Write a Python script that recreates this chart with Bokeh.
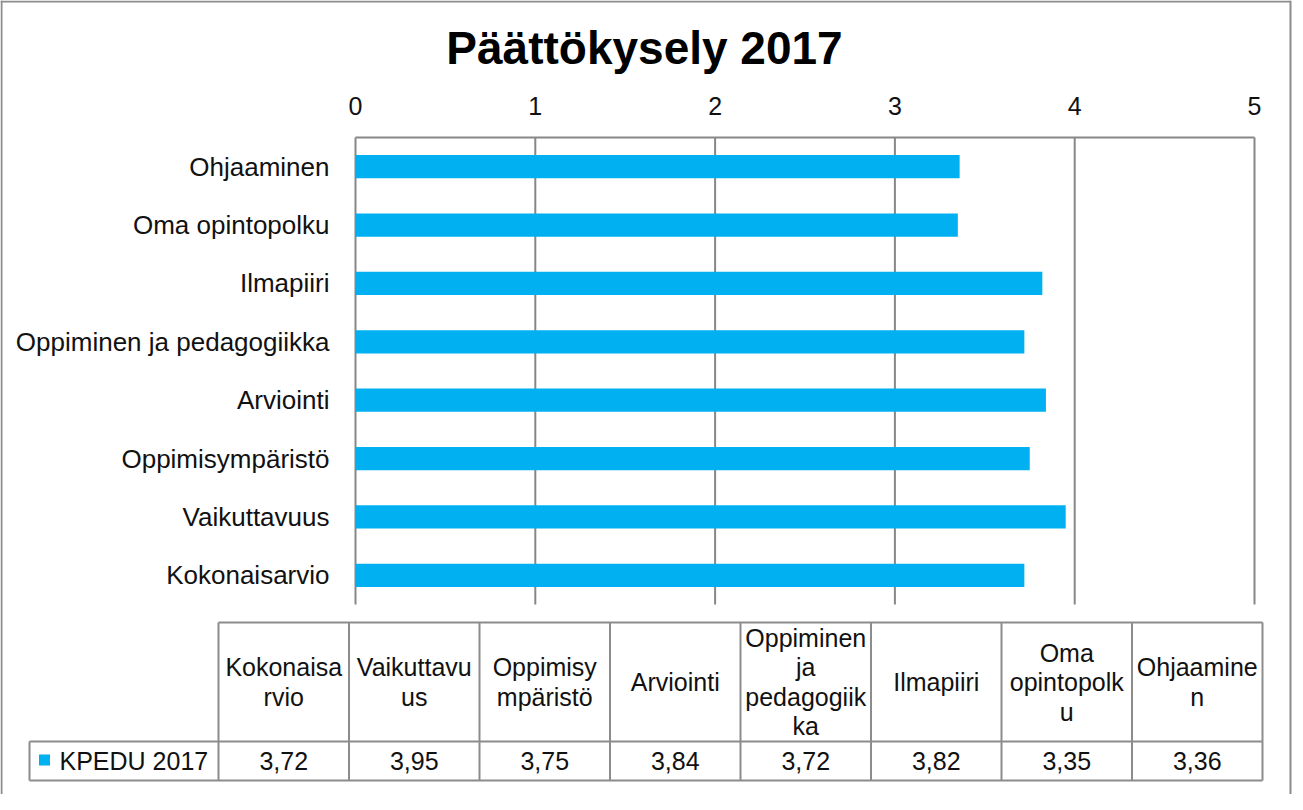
from bokeh.plotting import figure
from bokeh.models import Range1d, ColumnDataSource
from bokeh.core.properties import value
from bokeh.embed import file_html
from bokeh.resources import INLINE

# ---------------- data ----------------
title_text = "Päättökysely 2017"
series_name = "KPEDU 2017"
categories = ["Kokonaisarvio", "Vaikuttavuus", "Oppimisympäristö", "Arviointi",
              "Oppiminen ja pedagogiikka", "Ilmapiiri", "Oma opintopolku", "Ohjaaminen"]
header_lines = [["Kokonaisa", "rvio"], ["Vaikuttavu", "us"], ["Oppimisy", "mpäristö"],
                ["Arviointi"], ["Oppiminen", "ja", "pedagogiik", "ka"], ["Ilmapiiri"],
                ["Oma", "opintopolk", "u"], ["Ohjaamine", "n"]]
values = [3.72, 3.95, 3.75, 3.84, 3.72, 3.82, 3.35, 3.36]
x_ticks = [0, 1, 2, 3, 4, 5]

# ---------------- layout (canvas pixels) ----------------
W, H = 1292, 794
PLOT_L, PLOT_R, PLOT_T, PLOT_B = 355, 1254, 137, 604
XMIN, XMAX = 0, 5
TABLE_L, TABLE_R = 218, 1262
LEG_L = 29
TAB_T, TAB_M, TAB_B = 622, 741, 780
LINE_H = 29.5
FONT = value("Liberation Sans")
BAR_COLOR = "#00B0F0"
GRID_COLOR = "#878787"
TXT = "#111111"

n = len(categories)
scale = (PLOT_R - PLOT_L) / (XMAX - XMIN)
row = (PLOT_B - PLOT_T) / n

p = figure(width=W, height=H, output_backend="svg", toolbar_location=None,
           x_axis_type=None, y_axis_type=None,
           x_range=Range1d(XMIN - PLOT_L / scale, XMAX + (W - PLOT_R) / scale),
           y_range=Range1d(H, 0),
           min_border=0, min_border_left=0, min_border_right=0,
           min_border_top=0, min_border_bottom=0)
p.outline_line_color = None
p.background_fill_color = "white"
p.border_fill_color = "white"
p.extra_x_ranges = {"px": Range1d(0, W)}
p.extra_y_ranges = {"cat": Range1d((H - PLOT_T) / row, -PLOT_T / row)}

# outer chart frame
p.segment(x0=[1, 0, W - 2], y0=[0, 1, 0], x1=[1, W - 2, W - 2], y1=[H, 1, H],
          x_range_name="px", line_color="#8c8c8c", line_width=2)

# title
p.text(x=[W / 2 - 2], y=[47], text=[title_text], x_range_name="px",
       text_align="center", text_baseline="middle", text_font=FONT,
       text_font_size=value("46px"), text_font_style="bold", text_color="#000000")

# grid / axis lines
p.segment(x0=x_ticks, x1=x_ticks, y0=[PLOT_T] * len(x_ticks), y1=[PLOT_B] * len(x_ticks),
          line_color=GRID_COLOR, line_width=2)
p.segment(x0=[XMIN], x1=[XMAX], y0=[PLOT_T], y1=[PLOT_T], line_color=GRID_COLOR, line_width=2)

# tick labels (top axis)
p.text(x=x_ticks, y=[105] * len(x_ticks), text=[str(t) for t in x_ticks],
       text_align="center", text_baseline="middle", text_font=FONT,
       text_font_size=value("25px"), text_color=TXT)

# bars (first category at bottom)
row_pos = [n - 1 - i + 0.5 for i in range(n)]
src = ColumnDataSource(dict(y=row_pos, v=values, cat=categories,
                            lx=[PLOT_L - 26] * n))
p.hbar(y="y", left=0, right="v", height=0.4, source=src, y_range_name="cat",
       fill_color=BAR_COLOR, line_color=None)

# category labels
p.text(x="lx", y="y", text="cat", source=src, x_range_name="px", y_range_name="cat",
       text_align="right", text_baseline="middle", text_font=FONT,
       text_font_size=value("26px"), text_color=TXT)

# ---------------- data table ----------------
col_w = (TABLE_R - TABLE_L) / n
col_edges = [TABLE_L + k * col_w for k in range(n + 1)]
col_centers = [TABLE_L + (k + 0.5) * col_w for k in range(n)]

hx0 = [TABLE_L, LEG_L, LEG_L]
hx1 = [TABLE_R, TABLE_R, TABLE_R]
hy = [TAB_T, TAB_M, TAB_B]
vx = col_edges + [LEG_L]
vy0 = [TAB_T] * len(col_edges) + [TAB_M]
vy1 = [TAB_B] * len(col_edges) + [TAB_B]
p.segment(x0=hx0, x1=hx1, y0=hy, y1=hy, x_range_name="px", line_color="#8c8c8c", line_width=2)
p.segment(x0=vx, x1=vx, y0=vy0, y1=vy1, x_range_name="px", line_color="#8c8c8c", line_width=2)

# header texts (wrapped as in the original)
hcx, hcy, htxt = [], [], []
mid = (TAB_T + TAB_M) / 2
for k, lines in enumerate(header_lines):
    m = len(lines)
    for j, s in enumerate(lines):
        hcx.append(col_centers[k])
        hcy.append(mid + (j - (m - 1) / 2) * LINE_H)
        htxt.append(s)
p.text(x=hcx, y=hcy, text=htxt, x_range_name="px", text_align="center",
       text_baseline="middle", text_font=FONT, text_font_size=value("25px"), text_color=TXT)

# value row
vmid = (TAB_M + TAB_B) / 2
p.text(x=col_centers, y=[vmid] * n, text=[f"{v:.2f}".replace(".", ",") for v in values],
       x_range_name="px", text_align="center", text_baseline="middle", text_font=FONT,
       text_font_size=value("25px"), text_color=TXT)

# legend key in table
p.scatter(x=[LEG_L + 15], y=[vmid - 1], marker="square", size=11, x_range_name="px",
          fill_color=BAR_COLOR, line_color=None)
p.text(x=[LEG_L + 30], y=[vmid], text=[series_name], x_range_name="px",
       text_align="left", text_baseline="middle", text_font=FONT,
       text_font_size=value("25px"), text_color=TXT)

open("out.html", "w").write(file_html(p, INLINE))
